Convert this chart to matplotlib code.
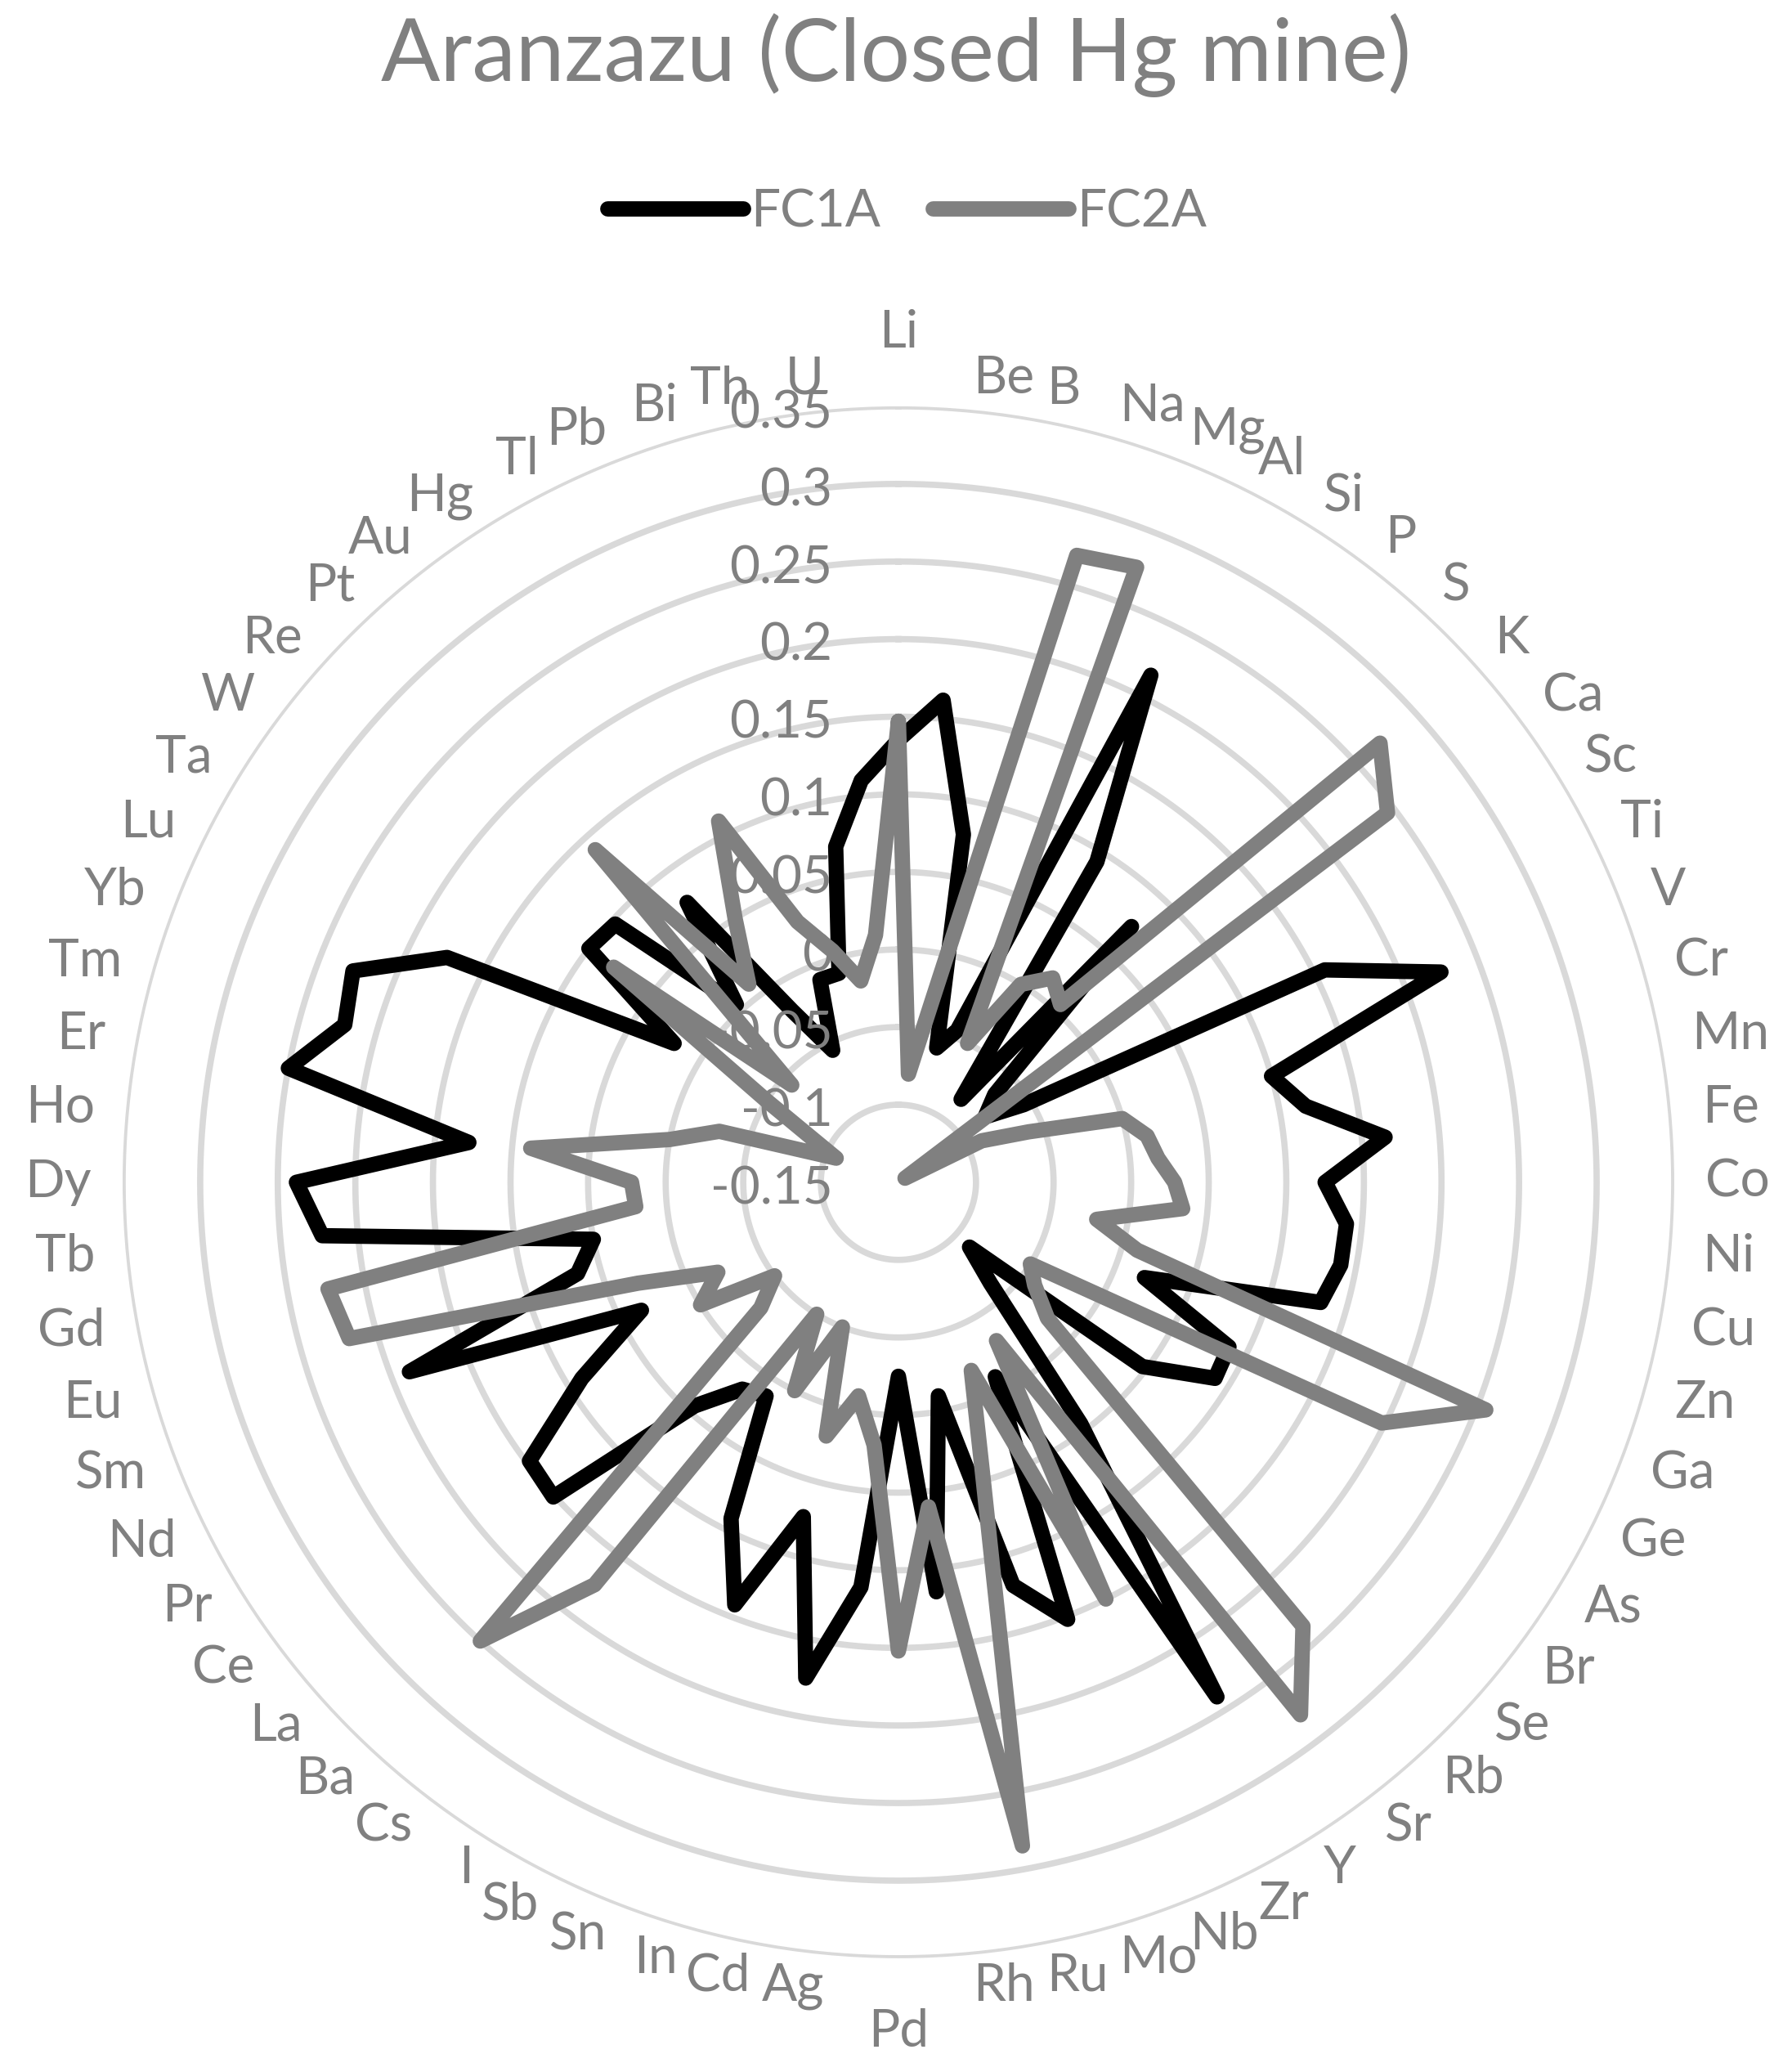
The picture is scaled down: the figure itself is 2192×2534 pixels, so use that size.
import numpy as np
import matplotlib.pyplot as plt
from matplotlib.transforms import offset_copy
from matplotlib.lines import Line2D

plt.rcParams['font.family'] = ['Lato', 'DejaVu Sans']

elements = ['Li', 'Be', 'B', 'Na', 'Mg', 'Al', 'Si', 'P', 'S', 'K', 'Ca', 'Sc',
            'Ti', 'V', 'Cr', 'Mn', 'Fe', 'Co', 'Ni', 'Cu', 'Zn', 'Ga', 'Ge', 'As',
            'Br', 'Se', 'Rb', 'Sr', 'Y', 'Zr', 'Nb', 'Mo', 'Ru', 'Rh', 'Pd', 'Ag',
            'Cd', 'In', 'Sn', 'Sb', 'I', 'Cs', 'Ba', 'La', 'Ce', 'Pr', 'Nd', 'Sm',
            'Eu', 'Gd', 'Tb', 'Dy', 'Ho', 'Er', 'Tm', 'Yb', 'Lu', 'Ta', 'W', 'Re',
            'Pt', 'Au', 'Hg', 'Tl', 'Pb', 'Bi', 'Th', 'U']

fc1a = [0.135, 0.162, 0.078, -0.06, -0.045, 0.215, 0.093, -0.083, 0.073, -0.066, -0.08, -0.055,
        0.157, 0.225, 0.10, 0.117, 0.165, 0.125, 0.14, 0.14, 0.133, 0.02, 0.088, 0.09,
        0.047, -0.088, -0.062, 0.045, 0.24, -0.01, 0.152, 0.12, -0.01, 0.115, -0.025, 0.112,
        0.175, 0.074, 0.142, 0.092, 0.012, 0.017, 0.045, 0.151, 0.148, 0.09, 0.035, 0.188,
        0.065, 0.05, 0.223, 0.238, 0.128, 0.25, 0.221, 0.227, 0.175, 0.02, 0.10, 0.097,
        0.005, 0.076, -0.02, -0.055, -0.01, -0.01, 0.07, 0.11]

fc2a = [0.147, -0.08, -0.03, 0.27, 0.275, -0.05, 0.0, 0.015, 0.005, 0.27, 0.245, -0.145,
        -0.09, -0.06, 0.0, 0.013, 0.018, 0.028, 0.034, -0.02, 0.01, 0.256, 0.198, -0.05,
        -0.04, -0.02, 0.237, 0.28, -0.03, 0.15, -0.02, 0.05, 0.285, 0.06, 0.152, 0.02,
        -0.01, 0.02, -0.05, 0.0, -0.05, 0.175, 0.25, -0.03, -0.05, 0.0, -0.02, 0.03,
        0.218, 0.224, 0.02, 0.022, 0.088, 0.0, -0.03, -0.107, -0.09, -0.05, 0.08, -0.057,
        0.14, 0.01, 0.05, 0.11, 0.03, 0.005, -0.018, 0.01]

ring_values = [-0.1, -0.05, 0, 0.05, 0.1, 0.15, 0.2, 0.25, 0.3, 0.35]
tick_values = [-0.15, -0.1, -0.05, 0, 0.05, 0.1, 0.15, 0.2, 0.25, 0.3, 0.35]

text_gray = '#808080'
line_gray = '#808080'

fig = plt.figure(figsize=(21.92, 25.34), dpi=100)
ax = fig.add_axes([0.0684, 0.0549, 0.8659, 0.749], projection='polar')
ax.set_theta_zero_location('N')
ax.set_theta_direction(-1)
ax.set_ylim(-0.15, 0.35)
ax.axis('off')

# circular gridlines
circle = np.linspace(0, 2 * np.pi, 721)
for v in ring_values:
    ax.plot(circle, [v] * len(circle), color='#d9d9d9', lw=5.5, zorder=1)

n = len(elements)
theta = np.arange(n) * 2 * np.pi / n
theta_c = np.append(theta, theta[0])

ax.plot(theta_c, fc1a + fc1a[:1], color='black', lw=13.5,
        solid_joinstyle='round', solid_capstyle='round', zorder=3)
ax.plot(theta_c, fc2a + fc2a[:1], color=line_gray, lw=13.5,
        solid_joinstyle='round', solid_capstyle='round', zorder=4)

# category labels round the outside
for t, name in zip(theta, elements):
    s, c = np.sin(t), np.cos(t)
    r = 0.37
    if abs(s) < 0.02:
        ha = 'center'
        va = 'bottom' if c > 0 else 'top'
        r = 0.382
    else:
        ha = 'left' if s > 0 else 'right'
        va = 'center'
    ax.text(t, r, name, ha=ha, va=va, fontsize=46, color=text_gray,
            clip_on=False, zorder=5)

# value labels along the vertical axis
tick_tr = offset_copy(ax.transData, fig=fig, x=-58, y=-6, units='points')
for v in tick_values:
    ax.text(0, v, f'{v:g}', ha='right', va='center', fontsize=46,
            color=text_gray, transform=tick_tr, zorder=6)

fig.text(0.5, 1 - 68 / 2534, 'Aranzazu (Closed Hg mine)', ha='center', va='center',
         fontsize=77, color=text_gray)

handles = [Line2D([], [], color='black', lw=13.5, solid_capstyle='round'),
           Line2D([], [], color=line_gray, lw=13.5, solid_capstyle='round')]
fig.legend(handles, ['FC1A', 'FC2A'], loc='center', bbox_to_anchor=(0.506, 1 - 259 / 2534),
           ncol=2, frameon=False, fontsize=46, labelcolor=text_gray,
           handlelength=2.6, handletextpad=0.15, columnspacing=1.0)

fig.savefig('out.png', dpi=100)
